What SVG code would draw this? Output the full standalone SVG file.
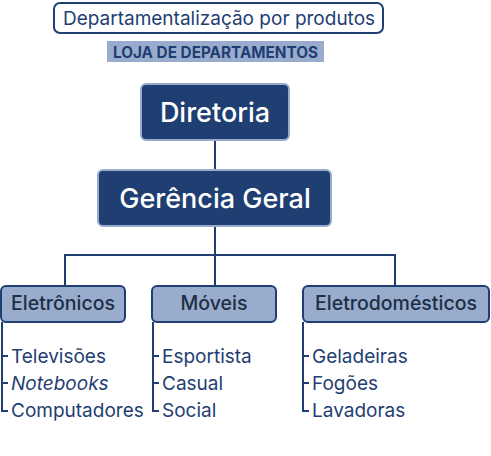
<svg xmlns="http://www.w3.org/2000/svg" width="491" height="456" viewBox="0 0 491 456">
<style>
text{font-family:Inter,"Noto Sans","Liberation Sans",sans-serif;}
.top{fill:#1f3e72;stroke:#9aaccd;stroke-width:2}
.cat{fill:#9aaccd;stroke:#1f3e72;stroke-width:2}
.tw{fill:#fff;font-size:27px;text-anchor:middle;font-weight:500}
.tc{fill:#1c2f44;font-size:19.5px;text-anchor:middle;font-weight:500}
.it{fill:#1f3e72;font-size:19px}
.ln{fill:none;stroke:#1f3e72;stroke-width:2}
</style>
<rect width="491" height="456" fill="#fff"/>
<g id="title">
<rect x="54" y="3" width="329" height="30" rx="6" fill="#fff" stroke="#1f3e72" stroke-width="2"/>
<text x="219" y="24.5" font-size="19" fill="#1f3e72" text-anchor="middle">Departamentalização por produtos</text>
</g>
<g id="subtitle">
<rect x="107" y="41" width="217" height="21" fill="#9aaccd"/>
<text x="215.5" y="57.5" font-size="15.3" font-weight="bold" fill="#1f3e72" text-anchor="middle">LOJA DE DEPARTAMENTOS</text>
</g>
<g id="connectors">
<path class="ln" d="M215 140V170M215 226V285M65 255H395M65 254V285M395 254V285"/>
<path class="ln" d="M2 322V411H8M2 356H8M2 383H8"/>
<path class="ln" d="M153 322V411H159M153 356H159M153 383H159"/>
<path class="ln" d="M303 322V411H309M303 356H309M303 383H309"/>
</g>
<g id="diretoria">
<rect class="top" x="141" y="84" width="148" height="56" rx="5"/>
<text class="tw" x="215" y="122">Diretoria</text>
</g>
<g id="gerencia">
<rect class="top" x="98" y="170" width="233" height="56" rx="5"/>
<text class="tw" x="215" y="208">Gerência Geral</text>
</g>
<g id="eletronicos">
<rect class="cat" x="1" y="286" width="124" height="36" rx="5"/>
<text class="tc" x="63" y="310">Eletrônicos</text>
</g>
<g id="moveis">
<rect class="cat" x="152" y="286" width="124" height="36" rx="5"/>
<text class="tc" x="214" y="310">Móveis</text>
</g>
<g id="eletrodomesticos">
<rect class="cat" x="303" y="286" width="186" height="36" rx="5"/>
<text class="tc" x="396" y="310">Eletrodomésticos</text>
</g>
<g id="items">
<text class="it" x="11" y="362.5">Televisões</text>
<text class="it" x="11" y="389.5" font-style="italic">Notebooks</text>
<text class="it" x="11" y="416.5">Computadores</text>
<text class="it" x="162" y="362.5">Esportista</text>
<text class="it" x="162" y="389.5">Casual</text>
<text class="it" x="162" y="416.5">Social</text>
<text class="it" x="312" y="362.5">Geladeiras</text>
<text class="it" x="312" y="389.5">Fogões</text>
<text class="it" x="312" y="416.5">Lavadoras</text>
</g>
</svg>
